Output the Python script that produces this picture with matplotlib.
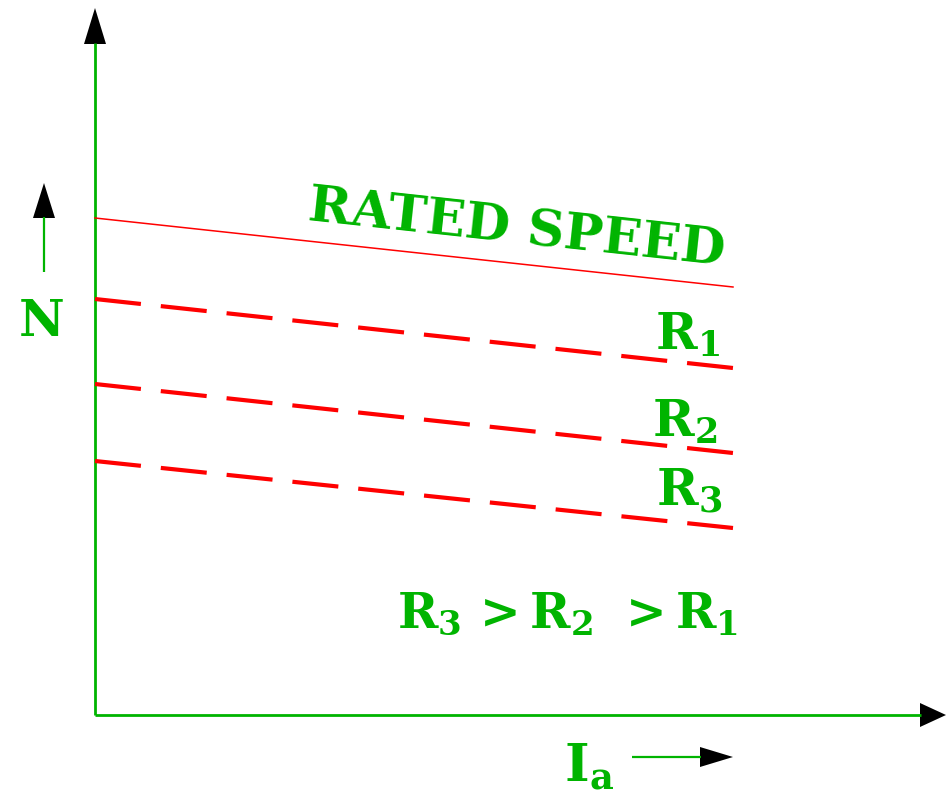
import matplotlib
matplotlib.use("Agg")
import matplotlib.pyplot as plt

plt.rcParams['mathtext.fontset'] = 'dejavuserif'
plt.rcParams['font.family'] = ['DejaVu Serif']

GREEN = '#00b400'
RED = '#ff0000'

# current axis (Ia) end points and speed values (N) for each curve
ia = [0, 638]
rated = [497, 428]
r1 = [416, 347]
r2 = [331, 262]
r3 = [254, 187]
labels = [r'$\mathbf{R_1}$', r'$\mathbf{R_2}$', r'$\mathbf{R_3}$']

fig = plt.figure(figsize=(9.46, 7.93), dpi=100)
ax = fig.add_axes([0, 0, 1, 1])
ax.set_xlim(-95, 851)
ax.set_ylim(-78, 715)
ax.axis('off')

# axes
ax.plot([0, 0], [0, 672], color=GREEN, lw=2.0, solid_capstyle='butt')
ax.fill([-11, 11, 0], [671, 671, 707], color='black', lw=0)
ax.plot([0, 826], [0, 0], color=GREEN, lw=2.0, solid_capstyle='butt')
ax.fill([825, 825, 851], [12, -12, 0], color='black', lw=0)

# N arrow
ax.plot([-51, -51], [443, 498], color=GREEN, lw=1.6, solid_capstyle='butt')
ax.fill([-62, -40, -51], [497, 497, 532], color='black', lw=0)
ax.text(-53, 392, 'N', color=GREEN, fontsize=36, fontweight='bold', ha='center', va='center')

# Ia arrow
ax.plot([537, 606], [-42, -42], color=GREEN, lw=1.6, solid_capstyle='butt')
ax.fill([605, 605, 638], [-32, -52, -42], color='black', lw=0)
ax.text(494, -52, r'$\mathbf{I_a}$', color=GREEN, fontsize=38, ha='center', va='center')

# rated speed line
ax.plot(ia, rated, color=RED, lw=1.1)
ax.text(422, 485, 'RATED SPEED', color=GREEN, fontsize=37, fontweight='bold',
        ha='center', va='center', rotation=-6.2, rotation_mode='anchor')

# resistance lines
label_pos = [(592, 380), (590, 293), (594, 223)]
for vals, lab, pos in zip([r1, r2, r3], labels, label_pos):
    ax.plot(ia, vals, color=RED, lw=3.0, linestyle=(0, (11.08, 4.8)), dash_capstyle='butt')
    ax.text(pos[0], pos[1], lab, color=GREEN, fontsize=36, ha='center', va='center')

ax.text(473, 101, r'$\mathbf{R_3\, > R_2\;\, > R_1}$', color=GREEN, fontsize=35,
        ha='center', va='center')

fig.savefig('out.png', dpi=100)
